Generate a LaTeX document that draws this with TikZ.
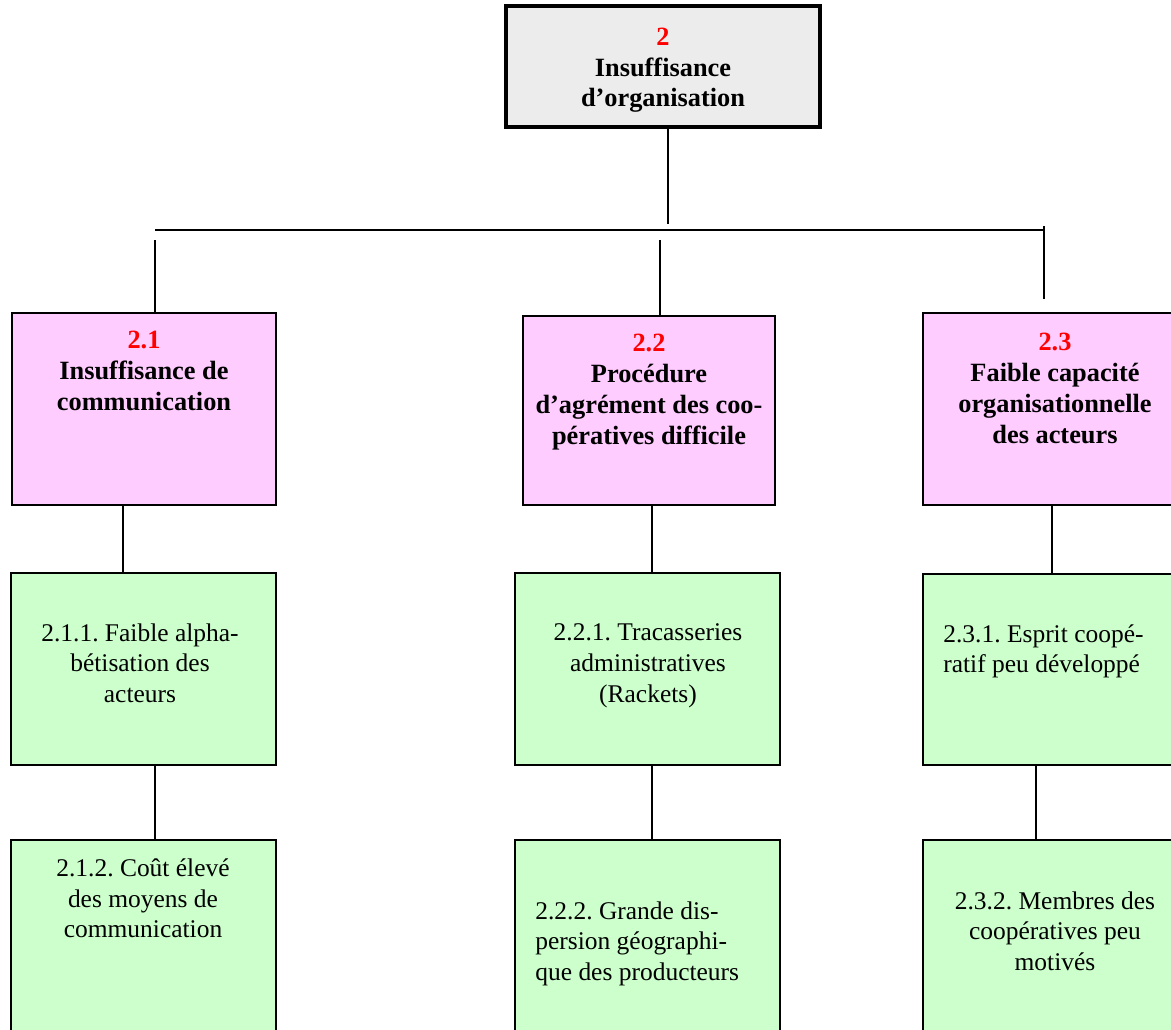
\documentclass[tikz,border=0pt]{standalone}
\usepackage{fontspec}
\setmainfont{Liberation Serif}
\frenchspacing

\definecolor{rose}{HTML}{FFCCFF}
\definecolor{vert}{HTML}{CCFFCC}
\definecolor{gris}{HTML}{ECECEC}

\tikzset{
  boite/.style={draw, line width=1.1pt, anchor=north west, inner sep=0pt, outer sep=0pt},
  cause/.style={boite, fill=rose, minimum width=5.28cm, minimum height=3.84cm},
  effet/.style={boite, fill=vert, minimum width=5.3cm, minimum height=3.84cm},
  txt/.style={anchor=north, inner sep=0pt, align=center, font=\fontsize{14.5}{17.6}\selectfont},
  titre/.style={txt, font=\fontsize{15}{17.6}\selectfont\bfseries},
  trait/.style={line width=1.1pt},
}

\begin{document}
\begin{tikzpicture}[x=0.02cm, y=-0.02cm]

    % Frame (pixels of the page)
    \useasboundingbox (0,0) rectangle (1171,1029);
    \clip (0,0) rectangle (1171,1029);

    % Top box
    \node[boite, line width=2.3pt, fill=gris, minimum width=6.28cm, minimum height=2.42cm] (b2) at (506,6) {};
    \node[titre, font=\fontsize{15}{17.2}\selectfont\bfseries] (l2) at (663,28)
          {\textcolor{red}{2}\\Insuffisance\\d’organisation};

    % Second level
    \node[cause] (b21) at (12,313) {};
    \node[cause, minimum width=5.04cm, minimum height=3.78cm] (b22) at (523,316) {};
    \node[cause] (b23) at (923,313) {};

    \node[titre] (l21) at (144,331) {\textcolor{red}{2.1}\\Insuffisance de\\communication};
    \node[titre] (l22) at (649,334) {\textcolor{red}{2.2}\\Procédure\\d’agrément des coo-\\pératives difficile};
    \node[titre] (l23) at (1055,333) {\textcolor{red}{2.3}\\Faible capacité\\organisationnelle\\des acteurs};

    % Third level
    \node[effet] (b211) at (11,573) {};
    \node[effet] (b221) at (515,573) {};
    \node[effet, minimum width=5.28cm, minimum height=3.82cm] (b231) at (923,574) {};

    \node[txt] (l211) at (140,623) {2.1.1. Faible alpha-\\bétisation des\\acteurs};
    \node[txt] (l221) at (648,623) {2.2.1. Tracasseries\\administratives\\(Rackets)};
    \node[txt, anchor=north west, align=left] (l231) at (943,624) {2.3.1. Esprit coopé-\\ratif peu développé};

    % Fourth level (cut by the page)
    \node[effet, minimum height=4.6cm] (b212) at (11,840) {};
    \node[effet, minimum height=4.6cm] (b222) at (515,840) {};
    \node[effet, minimum width=5.28cm, minimum height=4.6cm] (b232) at (923,840) {};

    \node[txt] (l212) at (143,858) {2.1.2. Coût élevé\\des moyens de\\communication};
    \node[txt, anchor=north west, align=left] (l222) at (535,901) {2.2.2. Grande dis-\\persion géographi-\\que des producteurs};
    \node[txt] (l232) at (1055,891) {2.3.2. Membres des\\coopératives peu\\motivés};

    % Junctions
    \coordinate (j0)  at (668,224);
    \coordinate (hL)  at (155,230);
    \coordinate (hR)  at (1044,230);
    \coordinate (vL)  at (155,240);
    \coordinate (vM)  at (660,240);
    \coordinate (vR)  at (1044,226);
    \coordinate (vRb) at (1044,299);
    \coordinate (a1)  at (123,0);
    \coordinate (a2)  at (155,0);
    \coordinate (a3)  at (652,0);
    \coordinate (a4)  at (1052,0);
    \coordinate (a5)  at (1036,0);

    \draw[trait] (b2.south -| j0) -- (j0);
    \draw[trait] (hL) -- (hR);
    \draw[trait] (vL) -- (vL |- b21.north);
    \draw[trait] (vM) -- (vM |- b22.north);
    \draw[trait] (vR) -- (vRb);

    \draw[trait] (a1 |- b21.south) -- (a1 |- b211.north);
    \draw[trait] (a2 |- b211.south) -- (a2 |- b212.north);
    \draw[trait] (a3 |- b22.south) -- (a3 |- b221.north);
    \draw[trait] (a3 |- b221.south) -- (a3 |- b222.north);
    \draw[trait] (a4 |- b23.south) -- (a4 |- b231.north);
    \draw[trait] (a5 |- b231.south) -- (a5 |- b232.north);

\end{tikzpicture}
\end{document}
